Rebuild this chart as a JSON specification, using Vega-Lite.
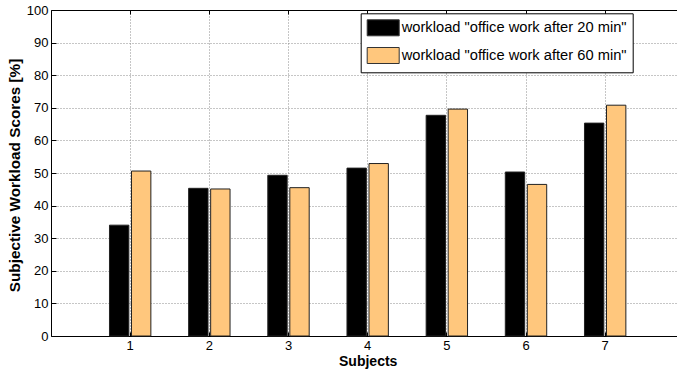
{
  "$schema": "https://vega.github.io/schema/vega-lite/v6.json",
  "width": 626,
  "height": 326,
  "autosize": {"type": "none"},
  "padding": {"left": 51, "top": 10, "right": 0, "bottom": 37},
  "background": "white",
  "config": {
    "view": {"stroke": null},
    "font": "Liberation Sans",
    "axis": {
      "domainColor": "#000000",
      "domainWidth": 1,
      "tickColor": "#000000",
      "labelColor": "#000000",
      "labelFont": "Liberation Sans",
      "labelFontSize": 13,
      "titleFont": "Liberation Sans",
      "titleFontSize": 14,
      "titleFontWeight": "bold",
      "titleColor": "#000000",
      "gridColor": "#8c8c8c",
      "gridDash": [1, 2],
      "gridWidth": 1,
      "gridOpacity": 1
    }
  },
  "data": {
    "values": [
      {"subject": "1", "session": "workload \"office work after 20 min\"", "score": 34.0},
      {"subject": "1", "session": "workload \"office work after 60 min\"", "score": 50.6},
      {"subject": "2", "session": "workload \"office work after 20 min\"", "score": 45.3},
      {"subject": "2", "session": "workload \"office work after 60 min\"", "score": 45.1},
      {"subject": "3", "session": "workload \"office work after 20 min\"", "score": 49.3},
      {"subject": "3", "session": "workload \"office work after 60 min\"", "score": 45.5},
      {"subject": "4", "session": "workload \"office work after 20 min\"", "score": 51.5},
      {"subject": "4", "session": "workload \"office work after 60 min\"", "score": 52.9},
      {"subject": "5", "session": "workload \"office work after 20 min\"", "score": 67.7},
      {"subject": "5", "session": "workload \"office work after 60 min\"", "score": 69.6},
      {"subject": "6", "session": "workload \"office work after 20 min\"", "score": 50.3},
      {"subject": "6", "session": "workload \"office work after 60 min\"", "score": 46.5},
      {"subject": "7", "session": "workload \"office work after 20 min\"", "score": 65.3},
      {"subject": "7", "session": "workload \"office work after 60 min\"", "score": 70.8}
    ]
  },
  "encoding": {
    "xOffset": {"field": "session", "type": "nominal", "scale": {"paddingInner": 0.12}},
    "y": {
      "field": "score",
      "type": "quantitative",
      "scale": {"domain": [0, 100], "nice": false},
      "axis": {
        "orient": "left",
        "values": [0, 10, 20, 30, 40, 50, 60, 70, 80, 90, 100],
        "grid": true,
        "tickSize": -5,
        "labelPadding": 8,
        "title": "Subjective Workload Scores [%]",
        "titleFontSize": 15.3,
        "titleAngle": -90,
        "titleX": -37,
        "titleY": 165,
        "titleAlign": "center",
        "titleBaseline": "middle"
      }
    }
  },
  "layer": [
    {
      "mark": {"type": "bar", "stroke": "#222222", "strokeWidth": 1},
      "encoding": {
        "x": {
          "field": "subject",
          "type": "ordinal",
          "scale": {"paddingInner": 0.4771, "paddingOuter": 0.6922, "align": 0.5335},
          "axis": {
            "orient": "bottom",
            "labelAngle": 0,
            "grid": true,
            "bandPosition": 0.5,
            "tickSize": -4,
            "labelPadding": 7,
            "title": "Subjects",
            "titleX": 316.7,
            "titleY": 25,
            "titleAlign": "center",
            "titleBaseline": "middle"
          }
        },
        "color": {
          "field": "session",
          "type": "nominal",
          "scale": {"range": ["#000000", "#FFC77D"]},
          "legend": {
            "title": null,
            "orient": "none",
            "legendX": 309.7,
            "legendY": 3.3,
            "fillColor": "#ffffff",
            "strokeColor": "#000000",
            "padding": 6,
            "symbolType": "M-1,-1H3V1H-1Z",
            "symbolSize": 256,
            "symbolStrokeColor": "#333333",
            "symbolStrokeWidth": 1,
            "symbolOpacity": 1,
            "labelFont": "Liberation Sans",
            "labelFontSize": 14.7,
            "labelColor": "#000000",
            "labelOffset": 18,
            "labelLimit": 400,
            "rowPadding": 6.7
          }
        }
      }
    },
    {
      "mark": {"type": "bar", "opacity": 0},
      "encoding": {
        "x": {
          "field": "subject",
          "type": "ordinal",
          "scale": {"paddingInner": 0.4771, "paddingOuter": 0.6922, "align": 0.5335},
          "axis": {
            "orient": "top",
            "labels": false,
            "grid": false,
            "bandPosition": 0.5,
            "tickSize": -4,
            "title": null
          }
        }
      }
    }
  ],
  "resolve": {"axis": {"x": "independent"}}
}
